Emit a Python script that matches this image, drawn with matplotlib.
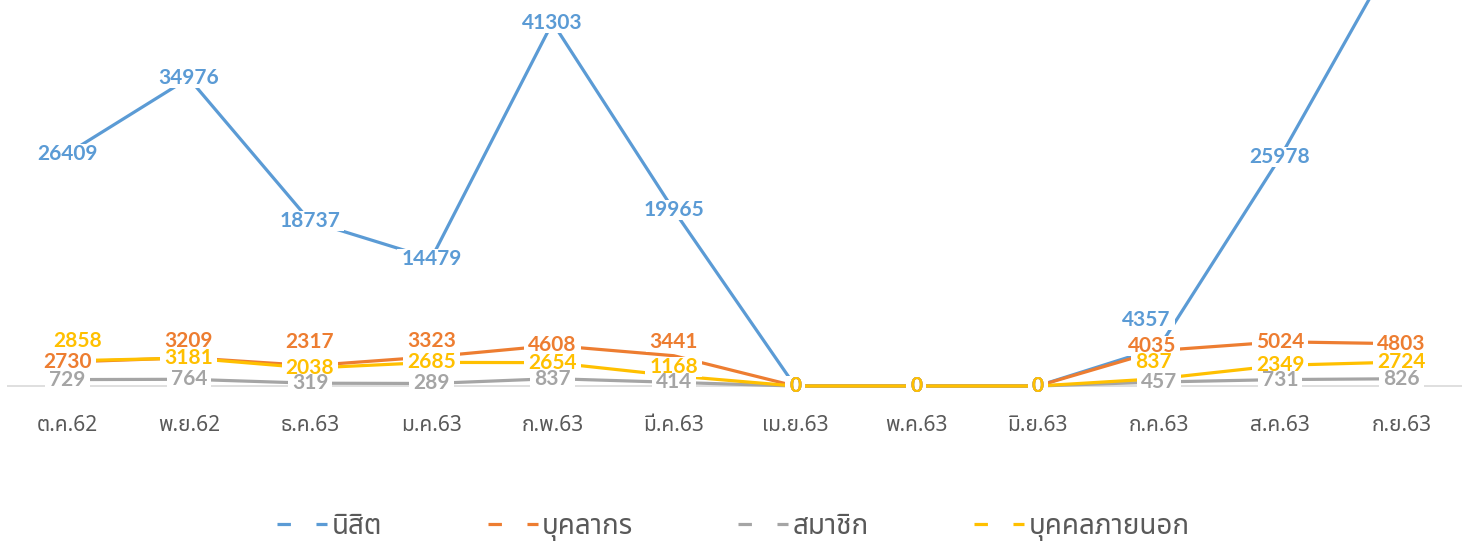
"""
จำนวนผู้ใช้บริการรายเดือน แยกตามประเภทผู้ใช้ (ต.ค.62 - ก.ย.63)
"""

import matplotlib
matplotlib.use("Agg")
import matplotlib.pyplot as plt
from matplotlib.lines import Line2D
from matplotlib.patches import Rectangle
from matplotlib.transforms import IdentityTransform

# ข้อมูล
months = ["ต.ค.62", "พ.ย.62", "ธ.ค.63", "ม.ค.63", "ก.พ.63", "มี.ค.63",
          "เม.ย.63", "พ.ค.63", "มิ.ย.63", "ก.ค.63", "ส.ค.63", "ก.ย.63"]
students = [26409, 34976, 18737, 14479, 41303, 19965, 0, 0, 0, 4357, 25978, 50430]
staff = [2730, 3209, 2317, 3323, 4608, 3441, 0, 0, 0, 4035, 5024, 4803]
members = [729, 764, 319, 289, 837, 414, 0, 0, 0, 457, 731, 826]
outsiders = [2858, 3181, 2038, 2685, 2654, 1168, 0, 0, 0, 837, 2349, 2724]

series_config = [
    ("นิสิต", students, "#5B9BD5"),
    ("บุคลากร", staff, "#ED7D31"),
    ("สมาชิก", members, "#A5A5A5"),
    ("บุคคลภายนอก", outsiders, "#FFC000"),
]

# ตำแหน่งป้ายที่ถูกเลื่อน (หน่วย: จุด) -> (dx, dy)
label_shift = {
    (0, 9): (-9, 20),
    (1, 1): (0, 12), (1, 2): (0, 17), (1, 3): (0, 11), (1, 5): (0, 10),
    (1, 9): (-5, 3),
    (3, 0): (7, 14), (3, 5): (0, 6), (3, 9): (-4, 12),
}

THAI = ["Noto Sans Thai", "DejaVu Sans"]
NUM = ["Lato", "DejaVu Sans"]
TEXT_COLOR = "#595959"

fig = plt.figure(figsize=(14.7, 5.44), dpi=100)
ax = fig.add_axes([0.0047, 0.2647, 0.9898, 0.7353])

x = list(range(len(months)))
for i, (name, values, color) in enumerate(series_config):
    ax.plot(x, values, color=color, linewidth=2.3, solid_capstyle="butt",
            zorder=2 + i)

ax.axhline(0, color="#D9D9D9", linewidth=1.2, zorder=1)

# ป้ายข้อมูล
labels = []
for i, (name, values, color) in enumerate(series_config):
    for j, val in enumerate(values):
        dx, dy = label_shift.get((i, j), (0, 0))
        t = ax.annotate(
            f"{val}", (j, val), xytext=(dx, dy), textcoords="offset points",
            ha="center", va="center", fontsize=15, fontweight="bold",
            family=NUM, color=color, zorder=10 + i, annotation_clip=True,
        )
        labels.append(t)

ax.set_xlim(-0.5, len(months) - 0.5)
ax.set_ylim(-1590, 43860)
ax.set_xticks(x)
ax.set_xticklabels(months, family=THAI, fontsize=15, color=TEXT_COLOR)
ax.tick_params(axis="x", length=0, pad=11)
ax.set_yticks([])
for sp in ax.spines.values():
    sp.set_visible(False)

handles = [
    Line2D([], [], color=color, linewidth=2.3, linestyle=(0, (4.2, 8)))
    for _, _, color in series_config
]
leg = fig.legend(
    handles, [s[0] for s in series_config], loc="center",
    bbox_to_anchor=(0.499, 0.032), ncol=4, frameon=False,
    prop={"family": THAI, "size": 20}, labelcolor=TEXT_COLOR,
    handlelength=1.8, handletextpad=0.15, columnspacing=3.8,
)

# กล่องขาวใต้ป้ายตัวเลข เพื่อตัดเส้นเหมือนกราฟ Excel
fig.canvas.draw()
renderer = fig.canvas.get_renderer()
for t in labels:
    if not t.get_visible():
        continue
    bb = t.get_window_extent(renderer)
    ax.add_patch(Rectangle(
        (bb.x0 - 4, bb.y0), bb.width + 8, bb.height,
        transform=IdentityTransform(), facecolor="white", edgecolor="none",
        zorder=8,
    ))

fig.savefig("out.png", dpi=100)
